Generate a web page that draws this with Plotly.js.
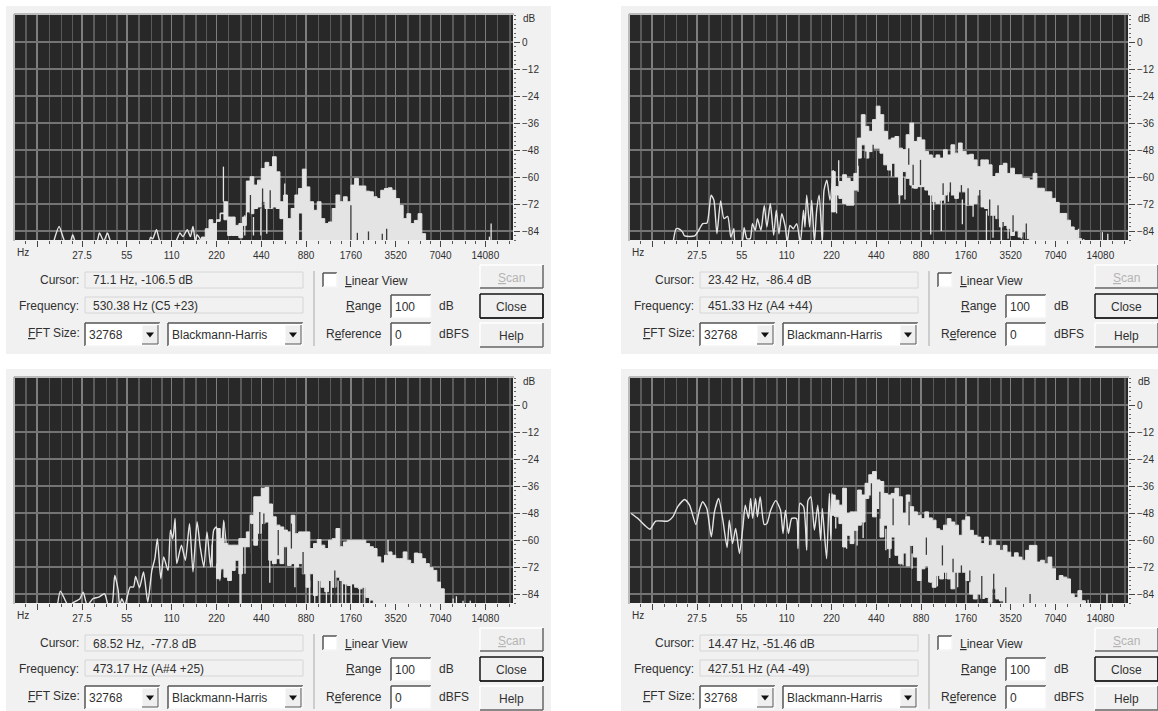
<!DOCTYPE html>
<html><head><meta charset="utf-8">
<script src="https://cdn.plot.ly/plotly-3.0.1.min.js"></script>
<style>html,body{margin:0;padding:0;background:#fff;overflow:hidden}#chart{width:1158px;height:711px}</style>
</head><body><div id="chart"></div>
<script>
// ---- axis labels
const octaveHz=[13.75,27.5,55,110,220,440,880,1760,3520,7040,14080];
const octaveLabels=['','27.5','55','110','220','440','880','1760','3520','7040','14080'];
const minorHz=[11.55,16.6,20,23.7,33.2,40.2,47.3,66.5,80.3,94.6,133,160.6,189,266,321,378,532,642,757,1065,1285,1514,2130,2570,3027,4260,5140,6054,8520,10280,12100,17040,20560];
const dbTicks=[0,-12,-24,-36,-48,-60,-72,-84];
const noteHz=[164.8,174.6,185,196,207.7,220,233.1,246.9,261.6,277.2,293.7,311.1,329.6,349.2,370,392,415.3,440,466.2,493.9,523.3,554.4,587.3,622.3,659.3,698.5,740,784,830.6,880,932.3,987.8,1046.5,1108.7,1174.7,1244.5,1318.5,1396.9,1480,1568,1661.2,1760,1864.7,1975.5,2093,2217.5,2349.3,2489,2637,2793.8,2960,3136,3322.4,3520,3729.3,3951,4186,4434.9,4698.6,4978,5274,5587.7,5919.9,6271.9,6644.9,7040,7458.6,7902.1,8372,8869.8,9397.3,9956.1,10548,11175];

// ---- panel 1
const p1LineHz=[17.7,19.3,21.2,22.9,23.8,25,34.4,36,38.5,40.8,43.3,77,79.4,82,87,92.5,116,125,131,140,147,153,159,163,171,181];
const p1LineDb=[-89,-82,-89,-89,-85.6,-89,-89,-84.9,-88.5,-84.9,-89,-89,-86.8,-87.5,-83.4,-89,-89,-84.9,-86.5,-83.4,-86.5,-82,-89,-85.6,-87.5,-89];
const p1Top=[-88,-86.7,-83,-79,-80.7,-79.7,-76.3,-71,-77.8,-77.8,-81.5,-80.7,-81.5,-61.8,-59.9,-63.6,-61.4,-56.2,-53.5,-55.4,-51,-57.7,-71,-68,-78.5,-74,-68,-65.1,-56.5,-64.4,-71,-74.8,-71,-78.5,-80.7,-80,-74,-68,-71,-68.8,-71,-63.6,-60.6,-64,-64,-66.3,-66.6,-68.8,-69.6,-65.9,-65.1,-64.8,-65.9,-69.6,-72.6,-78.5,-76.3,-80.7,-79.3,-76.3,-85.2,-88.2];
const p1Bottom=[-89,-89,-89,-88,-88,-88,-79,-76,-79,-86,-86,-86,-87,-77.8,-75.5,-76.3,-74,-73.3,-71,-74,-74,-73.3,-74,-78.5,-89,-89,-89,-89,-76,-89,-89,-89,-89,-89,-89,-89,-89,-89,-89,-89,-89,-89,-89,-89,-89,-89,-89,-89,-89,-89,-89,-89,-89,-89,-89,-89,-89,-89,-89,-89,-89,-89];
const p1LightHz=[245,633,437,390,479,538,341,15000,15400];
const p1LightTop=[-55.4,-62.9,-74,-77.8,-74,-63.6,-77,-86.5,-80.7];
const p1LightLow=[-71,-75.5,-86,-86,-85.2,-73.3,-86,-89,-89];
const p1DarkHz=[372,449,505,1760,1945,2310,2860,3060];
const p1DarkTop=[-68,-65.1,-65.9,-72.6,-84.8,-84.2,-85.2,-83];
const p1DarkLow=[-77.8,-74,-74,-89,-89,-89,-89,-89];

// ---- panel 2
const p2LineHz=[19,19.9,20.7,22,22.7,26.5,28.6,30,32.1,34.2,35.7,37.4,39.6,41.7,44.2,46.4,48.6,49.6,55,57,59.4,62.6,64.8,67.7,70,73.9,77.8,81,85.4,90,93.7,97.6,102,107.7,111,115.8,122,128.5,136,142.7,146,150,157,162,169,175,182,191,196,205,215,226];
const p2LineDb=[-89,-83,-83,-84.5,-86.2,-86.2,-83,-80.7,-80.4,-68.1,-70.3,-85.2,-70.6,-78.5,-77.5,-86.7,-83,-89,-89,-82.5,-87.4,-87.4,-80.7,-83.7,-78.5,-83.7,-72.6,-82.2,-71.8,-85.9,-74.8,-85.2,-76.3,-82.2,-89,-81.5,-83,-80.7,-89,-74.8,-82.2,-68.1,-82.2,-70.3,-89,-74.8,-68.1,-89,-65.9,-61.4,-70.3,-56.9];
const p2Top=[-57.6,-64.3,-62,-59,-60.6,-62,-58.4,-51.6,-32.3,-37.5,-39.7,-34.5,-28.5,-32.3,-39.7,-43.5,-42.7,-42,-47.2,-47.9,-41.2,-36,-44.2,-42.4,-43.5,-48.7,-50.2,-51.6,-50.2,-51.6,-47.9,-50.2,-45.7,-49.4,-44.9,-48.7,-50.2,-49.9,-52.4,-55.4,-52.4,-52.4,-54.6,-59.8,-58.4,-54.9,-53.9,-58.4,-56.1,-59,-59,-60.6,-60.6,-61.3,-58.4,-65,-65,-66.6,-66.6,-69.5,-71.3,-76.2,-76.2,-79.2,-82.2,-83.7,-87.4,-88.2];
const p2Bottom=[-69.5,-75.5,-68,-69.5,-71.8,-72.5,-72.5,-65.8,-42.7,-45.7,-51.6,-48.7,-47.2,-47.2,-49.4,-54.6,-56.9,-53.9,-59.8,-68,-57.6,-60.6,-63.6,-65,-64.3,-64.3,-65.8,-68,-71,-71.8,-70.3,-68,-66.6,-68,-69.5,-66.6,-66.6,-72.5,-72.5,-71.8,-68,-73.3,-74,-77,-77,-78.5,-82.2,-81.5,-83,-86,-83.7,-86.7,-84.4,-87.4,-89,-89,-89,-89,-89,-89,-89,-89,-89,-89,-89,-89,-89,-89];
const p2LightHz=[246,628,686,1021,1203,1666,2418,2678,3048,10050,10900,12580,14530,15800,238,332,556,770,1069,1269,1343,1967,3380,4150];
const p2LightTop=[-52.5,-58,-60,-66,-68,-70,-75,-75,-76,-83,-87.5,-88,-84.5,-85.2,-64,-55,-50,-55,-68,-65,-65,-70,-83,-84];
const p2LightLow=[-62,-72,-70,-85.6,-84,-81,-89,-87,-89,-89,-89,-89,-89,-89,-76.2,-66.6,-59.8,-65,-74.7,-71.8,-71,-77.7,-87.4,-87.4];
const p2DarkHz=[374,419,727,872,778,1237,1385,1642,1820,2181,2543,2893,3130,3650,4480];
const p2DarkTop=[-48.7,-45.7,-47.2,-52.4,-54.6,-62.8,-62.4,-63.6,-65,-65.8,-70,-72.5,-80,-77,-80.7];
const p2DarkLow=[-57.6,-51.6,-54.6,-63.6,-63.6,-68,-68,-69.5,-72.5,-74,-80,-83,-89,-84.4,-89];

// ---- panel 3
const p3LineHz=[18.8,19.7,22.2,24.3,26.6,28,29.8,32.5,35.5,39,41.3,43.6,45.6,48.1,49.2,50.9,53.3,57.9,61,63,66.9,71.2,76,81,84.8,88.2,93,97.2,104,108,112,116,119,128,136,145,153,163,171,181,190,201,211,220,232,246,267];
const p3LineDb=[-89,-82.7,-89,-87.6,-86.1,-83.2,-89,-86.1,-85.4,-83.9,-89,-89,-75.7,-82.4,-89,-86.1,-89,-80.9,-80.9,-76.2,-81.2,-74.2,-87.6,-73.5,-68.3,-59.4,-77.2,-67.5,-73.5,-55.6,-59.4,-50.4,-70.5,-62.3,-69,-52.7,-74.2,-51.9,-63,-72,-56.4,-72,-55.6,-54.2,-78,-51.2,-78];
const p3Top=[-54.9,-59.4,-61.6,-62.3,-62.3,-62.3,-59.4,-63,-56.4,-49,-40.8,-40.8,-37,-36.6,-44,-49.7,-53.4,-54.2,-55.6,-56.4,-49,-57.2,-56.4,-56.4,-56.4,-63.8,-61.6,-59.8,-62.3,-63.8,-60.1,-59.4,-54.9,-63,-60.9,-60.1,-60.1,-60.1,-60.1,-60.1,-61.6,-63,-63.8,-67.5,-70.2,-66.8,-65.3,-66.8,-68.3,-68.3,-65.3,-69,-70.5,-65.8,-66.1,-68.3,-70.5,-72.3,-73.5,-78.7,-81.7,-87.7];
const p3Bottom=[-70.5,-77.2,-72.8,-76.5,-78,-73.5,-69,-75,-59.4,-63,-52.7,-62.3,-57,-52.7,-52,-69,-70.5,-68.3,-70.5,-63,-71.3,-70.5,-72,-70.5,-75,-81,-75,-84.7,-78,-81,-83,-78,-81,-76.5,-78,-79.5,-80.2,-79.5,-81,-81.7,-81,-85.5,-86.7,-89,-89,-89,-89,-89,-89,-89,-89,-89,-89,-89,-89,-89,-89,-89,-89,-89,-89,-89];
const p3LightHz=[246,316.6,502,740,926,3125,8560,9000,9970,11150,206,268,342,321,931,1006,1087,1205,1302,1443,1544,1625,1774,2017,2180,2355];
const p3LightTop=[-52,-69,-60,-68,-76,-60,-86,-85,-87,-87,-62,-63,-60,-69,-78,-78,-78,-78,-78,-78,-78,-78,-78,-78,-78,-78];
const p3LightLow=[-62,-89,-79,-81,-89,-66,-89,-89,-89,-89,-72,-78,-75,-89,-89,-89,-89,-89,-89,-89,-89,-89,-89,-89,-89,-89];
const p3DarkHz=[372,430,458,572,701,840,1372];
const p3DarkTop=[-52.7,-47.5,-48.2,-55.6,-52.7,-65.3,-73.5];
const p3DarkLow=[-66,-63.8,-55.6,-66.8,-63.8,-75,-88];

// ---- panel 4
const p4LineHz=[9.93,11,12.2,13.3,14.5,17.5,18.9,20.4,22.7,24.5,27,28.7,30,32,34.3,36,38.4,41,43.8,45.3,47.6,50,53,55.9,58,61,63,65,68,70,73,77.7,81,86,93,100,104,108,113,119,128,131,135,143,150,153,160,169,178,186,191,204,213,218,222,232];
const p4LineDb=[-48.2,-50.4,-53.4,-55.2,-51.6,-51.6,-49.7,-45.2,-42,-44.5,-53.1,-46,-43,-46,-58.6,-47.5,-41.5,-51.2,-63.4,-51.2,-61.6,-54.9,-66,-54.2,-44.5,-50.4,-41.5,-50.4,-41.5,-49.7,-40.8,-53.1,-52.7,-46.7,-42.5,-46.7,-57.1,-46.7,-57.1,-50.4,-50.4,-63.8,-43.7,-45.2,-64.6,-42.5,-40.8,-55.6,-44.5,-60.1,-46,-68.3,-39.3,-60.1,-39.3,-49.7];
const p4Top=[-40,-42.3,-44.5,-37,-48.2,-47.5,-47.5,-37.8,-40,-34.8,-31,-29.6,-33.3,-34,-39.3,-40,-39.3,-37,-40.8,-48.2,-40,-45.2,-47.5,-49,-50.5,-47.5,-50.2,-51.2,-55,-55.7,-53.4,-50.5,-52,-53.4,-57.9,-51.2,-49.7,-55.7,-57.9,-58.7,-61.6,-58.7,-62.4,-60.1,-62.4,-64.6,-62.4,-65.4,-67.6,-65.7,-67.6,-69,-64.6,-62.4,-62.4,-69.8,-69,-70.6,-67.6,-72.8,-78,-75.8,-76.5,-77.3,-84,-85.5,-82.5,-87,-88];
const p4Bottom=[-49,-49,-49.7,-52.7,-63.1,-57.9,-61.6,-55.7,-53.4,-52,-41.5,-40,-49.7,-46,-58.7,-53.4,-63.9,-58.7,-66.8,-70.6,-65.8,-71.5,-62.4,-67.6,-78,-72.8,-71.5,-78.7,-81,-75.8,-77.3,-74.3,-77.3,-81.7,-74.3,-74.3,-74.3,-78,-84,-86.2,-84,-86,-85.5,-87.7,-81.7,-86.2,-87,-89,-89,-89,-89,-89,-89,-89,-89,-89,-89,-89,-89,-89,-89,-89,-89,-89,-89,-89,-89,-89,-89];
const p4LightHz=[865,1022,1550,11650,15600,235,278,327,359,489,510,542,601,666,766,1133,1289];
const p4LightTop=[-66,-66,-68,-86.5,-84,-50,-58,-55,-50,-53,-55,-60,-50,-62,-66,-74,-72];
const p4LightLow=[-78,-79,-81,-89,-89,-54.9,-63.9,-62.4,-59.1,-58.7,-64.6,-68,-58.7,-71.3,-72.8,-80.6,-77.3];
const p4DarkHz=[2250,2706,3260,4750,955,1224,1443,1642,1870,408,465,571,731];
const p4DarkTop=[-76,-75,-81,-84,-58.9,-62.4,-68.3,-71.3,-73.5,-34.8,-38.5,-41.5,-43];
const p4DarkLow=[-89,-89,-89,-89,-66.6,-71.3,-74.3,-75,-78.8,-41.5,-50.5,-53.4,-53.4];

// ---- dialog texts
const cursorTexts=['71.1 Hz, -106.5 dB','23.42 Hz,  -86.4 dB','68.52 Hz,  -77.8 dB','14.47 Hz, -51.46 dB'];
const freqTexts=['530.38 Hz (C5 +23)','451.33 Hz (A4 +44)','473.17 Hz (A#4 +25)','427.51 Hz (A4 -49)'];

// ---- layout constants
const W=1158,H=711,LIGHT='#e4e4e4',DARK='#282828',TXT='#303030';
const X=p=>p/W, Y=p=>1-p/H;
const panels=[
 {dx:0,dy:0,line:[p1LineHz,p1LineDb],top:p1Top,bot:p1Bottom,off:0,l:[p1LightHz,p1LightTop,p1LightLow],d:[p1DarkHz,p1DarkTop,p1DarkLow]},
 {dx:615,dy:0,line:[p2LineHz,p2LineDb],top:p2Top,bot:p2Bottom,off:5,l:[p2LightHz,p2LightTop,p2LightLow],d:[p2DarkHz,p2DarkTop,p2DarkLow]},
 {dx:0,dy:363,line:[p3LineHz,p3LineDb],top:p3Top,bot:p3Bottom,off:5,l:[p3LightHz,p3LightTop,p3LightLow],d:[p3DarkHz,p3DarkTop,p3DarkLow]},
 {dx:615,dy:363,line:[p4LineHz,p4LineDb],top:p4Top,bot:p4Bottom,off:5,l:[p4LightHz,p4LightTop,p4LightLow],d:[p4DarkHz,p4DarkTop,p4DarkLow]}
];
const traces=[],shapes=[],annotations=[];
const layout={width:W,height:H,margin:{l:0,r:0,t:0,b:0},paper_bgcolor:'#fff',plot_bgcolor:'rgba(0,0,0,0)',showlegend:false,
  font:{family:'"Liberation Sans",Arial,sans-serif',size:12,color:TXT},shapes,annotations};

function rect(x0,y0,x1,y1,fill,line){shapes.push({type:'rect',xref:'paper',yref:'paper',x0:X(x0),x1:X(x1),y0:Y(y0),y1:Y(y1),fillcolor:fill,line:{width:line?1:0,color:line||fill},layer:'below'});}
function seg(x0,y0,x1,y1,c,w){shapes.push({type:'line',xref:'paper',yref:'paper',x0:X(x0),x1:X(x1),y0:Y(y0),y1:Y(y1),line:{color:c,width:w||1},layer:'below'});}
function bevel(x0,y0,x1,y1,tl,br,w){seg(x0,y0,x1,y0,tl,w);seg(x0,y0,x0,y1,tl,w);seg(x0,y1,x1,y1,br,w);seg(x1,y0,x1,y1,br,w);}
function label(x,y,t,anchor,opt){annotations.push(Object.assign({xref:'paper',yref:'paper',x:X(x),y:Y(y),text:t,showarrow:false,xanchor:anchor||'left',yanchor:'middle',borderpad:0,font:{family:'"Liberation Sans",Arial,sans-serif',size:12,color:TXT}},opt||{}));}
function arrow(cx,cy){shapes.push({type:'path',xref:'paper',yref:'paper',path:`M ${X(cx-4)} ${Y(cy-2)} L ${X(cx+4)} ${Y(cy-2)} L ${X(cx)} ${Y(cy+3)} Z`,fillcolor:'#111',line:{width:0},layer:'below'});}
function field(x0,y0,x1,y1,t){rect(x0,y0,x1,y1,'#fff');bevel(x0,y0,x1,y1,'#555','#f4f4f4',1.5);label(x0+3,(y0+y1)/2+.5,t);}
function combo(x0,y0,x1,y1,t){field(x0,y0,x1,y1,t);rect(x1-18,y0+2,x1-2,y1-2,'#efefef');bevel(x1-18,y0+2,x1-2,y1-2,'#fff','#555',1);arrow(x1-10,(y0+y1)/2);}
function button(x0,y0,x1,y1,t,opt){rect(x0,y0,x1,y1,'#f0f0f0');bevel(x0,y0,x1,y1,'#fff','#666',1.5);label((x0+x1)/2,(y0+y1)/2+1,t,'center',opt);}

panels.forEach((p,i)=>{
  const s=i?String(i+1):'', dx=p.dx, dy=p.dy;
  const ax='x'+s, ay='y'+s;
  rect(6+dx,6+dy,551+dx,354+dy,'#f1f1f1');
  rect(15+dx,15+dy,513+dx,240+dy,DARK);
  seg(14+dx,14+dy,514+dx,14+dy,'#a8a8a8',1.5);
  seg(14+dx,14+dy,14+dx,241+dy,'#a8a8a8',1.5);
  layout['xaxis'+s]={type:'log',range:[Math.log10(9.75),Math.log10(21600)],domain:[X(15+dx),X(513+dx)],anchor:ay,
    tickmode:'array',tickvals:octaveHz,ticktext:octaveLabels,ticks:'outside',ticklen:6,tickcolor:'#444',tickwidth:1,
    showgrid:true,gridcolor:'#7e7e7e',gridwidth:1.5,zeroline:false,showline:false,tickfont:{size:10,color:TXT,family:'"Liberation Sans",Arial,sans-serif'},
    minor:{tickmode:'array',tickvals:minorHz,ticks:'outside',ticklen:3,tickcolor:'#555',tickwidth:1,showgrid:true,gridcolor:'#5a5a5a',gridwidth:1.5}};
  layout['yaxis'+s]={range:[-88,12],domain:[Y(240+dy),Y(15+dy)],anchor:ax,side:'right',
    tickmode:'array',tickvals:dbTicks,ticks:'outside',ticklen:6,tickcolor:'#444',tickwidth:1,showgrid:true,gridcolor:'#747474',gridwidth:2,
    zeroline:false,showline:false,tickfont:{size:10,color:TXT,family:'"Liberation Sans",Arial,sans-serif'},
    minor:{dtick:2,ticks:'outside',ticklen:2,tickcolor:'#666',tickwidth:1,showgrid:false}};
  traces.push({x:p.line[0],y:p.line[1],xaxis:ax,yaxis:ay,mode:'lines',line:{color:LIGHT,width:1.4,shape:'spline',smoothing:0.6},hoverinfo:'skip'});
  const hz=p.top.map((_,k)=>noteHz[k+p.off]);
  traces.push({x:hz.concat(hz.slice().reverse()),y:p.top.concat(p.bot.slice().reverse()),xaxis:ax,yaxis:ay,mode:'lines',fill:'toself',fillcolor:LIGHT,line:{color:LIGHT,width:1,shape:'hv'},hoverinfo:'skip'});
  const bars=(a,c)=>{const xs=[],ys=[];a[0].forEach((f,k)=>{xs.push(f,f,null);ys.push(a[1][k],a[2][k],null);});traces.push({x:xs,y:ys,xaxis:ax,yaxis:ay,mode:'lines',line:{color:c,width:1.3},hoverinfo:'skip'});};
  bars(p.l,LIGHT);bars(p.d,'#3a3a3a');
  label(23+dx,252+dy,'Hz','center',{font:{size:10,color:TXT,family:'"Liberation Sans",Arial,sans-serif'}});
  label(522+dx,19+dy,'dB','left',{font:{size:10,color:TXT,family:'"Liberation Sans",Arial,sans-serif'}});
  label(80+dx,280+dy,'Cursor:','right');
  rect(85+dx,272+dy,303+dx,288+dy,'#f1f1f1','#d6d6d6');
  label(92+dx,280.5+dy,cursorTexts[i]);
  label(80+dx,306+dy,'Frequency:','right');
  rect(85+dx,297+dy,303+dx,313+dy,'#f1f1f1','#d6d6d6');
  label(92+dx,305.5+dy,freqTexts[i]);
  label(81+dx,333+dy,'<u>F</u>FT Size:','right');
  combo(85+dx,323+dy,160+dx,346+dy,'32768');
  combo(168+dx,323+dy,303+dx,346+dy,'Blackmann-Harris');
  seg(314+dx,271+dy,314+dx,346+dy,'#a9a9a9',1);
  rect(323+dx,273+dy,337+dx,287+dy,'#fff');
  bevel(323+dx,273+dy,337+dx,287+dy,'#555','#f4f4f4',1.5);
  label(344+dx,281+dy,'<u>L</u>inear View');
  label(383+dx,306+dy,'<u>R</u>ange','right');
  field(391+dx,295+dy,431+dx,318+dy,'100');
  label(438+dx,306+dy,'dB');
  label(383+dx,334+dy,'R<u>e</u>ference','right');
  field(391+dx,323+dy,431+dx,346+dy,'0');
  label(438+dx,334+dy,'dBFS');
  button(480+dx,265+dy,543+dx,288+dy,'<u>S</u>can',{font:{family:'"Liberation Sans",Arial,sans-serif',size:12,color:'#b4b4b4'}});
  button(480+dx,294+dy,543+dx,318+dy,'Close');
  bevel(480+dx,294+dy,543+dx,318+dy,'#111','#111',1.5);
  button(480+dx,323+dy,543+dx,347+dy,'Help');
});
Plotly.newPlot('chart',traces,layout,{staticPlot:true,displayModeBar:false});
</script></body></html>
